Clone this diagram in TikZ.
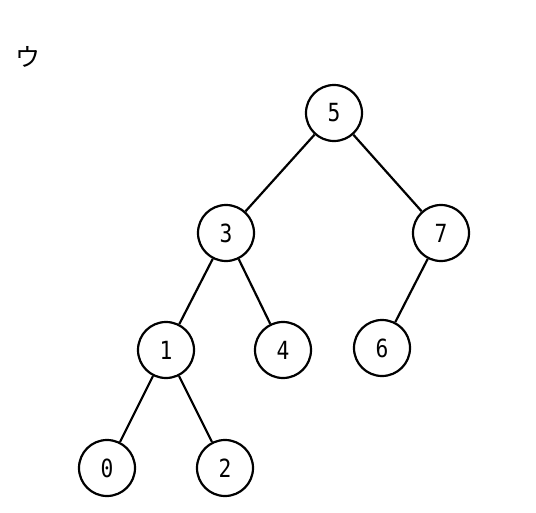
\documentclass[tikz,border=0pt]{standalone}
\usepackage{fontspec}
\setmonofont[FakeStretch=0.85]{DejaVu Sans Mono}
\newfontfamily\jpfont{Noto Sans CJK JP}
\usetikzlibrary{positioning}

\begin{document}
\begin{tikzpicture}[
  x=1pt, y=-1pt,
  node distance=120pt,
  vtx/.style={draw, circle, line width=2.2pt, minimum size=56pt, inner sep=0pt,
    font=\ttfamily\fontsize{25}{25}\selectfont},
  edge/.style={line width=2.2pt}
]
\useasboundingbox (0,0) rectangle (536,512);
\node[font=\jpfont\fontsize{25}{25}\selectfont] (label) at (28,57) {ウ};

\node[vtx] (n5) at (334,113) {5};
\node[vtx, on grid, below left=120pt and 108pt of n5] (n3) {3};
\node[vtx, on grid, below right=120pt and 107pt of n5] (n7) {7};
\node[vtx, on grid, below left=117pt and 60pt of n3] (n1) {1};
\node[vtx, on grid, below right=117pt and 57pt of n3] (n4) {4};
\node[vtx, on grid, below left=115pt and 59pt of n7] (n6) {6};
\node[vtx, on grid, below left=118pt and 59pt of n1] (n0) {0};
\node[vtx, on grid, below right=118pt and 59pt of n1] (n2) {2};

\draw[edge] (n5) -- (n3);
\draw[edge] (n5) -- (n7);
\draw[edge] (n3) -- (n1);
\draw[edge] (n3) -- (n4);
\draw[edge] (n7) -- (n6);
\draw[edge] (n1) -- (n0);
\draw[edge] (n1) -- (n2);
\end{tikzpicture}
\end{document}
